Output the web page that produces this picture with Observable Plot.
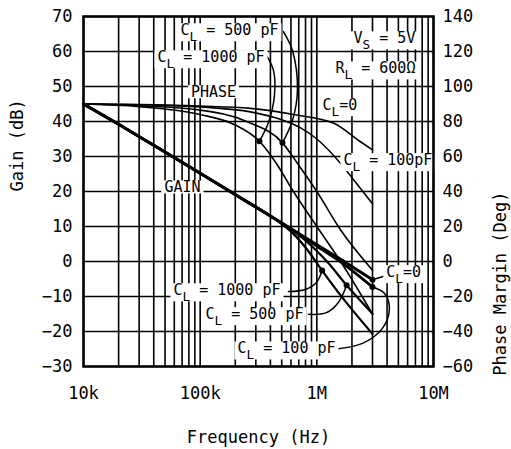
<!DOCTYPE html>
<html><head><meta charset="utf-8">
<script src="https://cdn.jsdelivr.net/npm/d3@7"></script>
<script src="https://cdn.jsdelivr.net/npm/@observablehq/plot@0.6"></script>
<style>body{margin:0;background:#fff}</style>
</head><body><div id="chart"></div>
<script>
// ---- Data ----
const xTicks = [1e4, 1e5, 1e6, 1e7];
const xTickLabels = ["10k", "100k", "1M", "10M"];
const gainTicks = [-30, -20, -10, 0, 10, 20, 30, 40, 50, 60, 70];
const phaseTicks = [-60, -40, -20, 0, 20, 40, 60, 80, 100, 120, 140];

// Open-loop gain (dB) vs frequency (Hz)
const gainFreqCL0 = [1e4, 2e4, 4e4, 1e5, 2e5, 4e5, 8e5, 1.6e6, 3e6];
const gainCL0 = [45, 39.2, 33.2, 25.2, 19.1, 13.0, 6.8, 0.6, -5.2];
const gainFreqCL100 = [1e4, 2e4, 4e4, 1e5, 2e5, 4e5, 6.3e5, 8e5, 1e6, 1.6e6, 3e6];
const gainCL100 = [45, 39.2, 33.2, 25.2, 19.1, 13.0, 8.9, 6.6, 4.4, -0.1, -7.3];
const gainFreqCL500 = [1e4, 2e4, 4e4, 1e5, 2e5, 4e5, 5e5, 6.3e5, 8e5, 1e6, 1.26e6, 1.8e6, 3e6];
const gainCL500 = [45, 39.2, 33.2, 25.2, 19.1, 13.0, 11.0, 8.7, 6.0, 3.0, -0.5, -6.8, -14.9];
const gainFreqCL1000 = [1e4, 2e4, 4e4, 1e5, 2e5, 4e5, 5e5, 6.3e5, 8e5, 1.11e6, 1.6e6, 3e6];
const gainCL1000 = [45, 39.2, 33.2, 25.2, 19.1, 13.0, 10.7, 7.9, 4.0, -2.6, -9.7, -20.7];

// Phase margin (deg) vs frequency (Hz)
const phaseFreqCL0 = [1e4, 3e4, 1e5, 2.7e5, 6.3e5, 1.4e6, 2.3e6, 3e6];
const phaseCL0 = [90, 89.7, 88.8, 87.5, 84, 79, 69, 63.8];
const phaseFreqCL100 = [1e4, 3e4, 1e5, 2.7e5, 5e5, 7.2e5, 1e6, 1.6e6, 2.2e6, 3e6];
const phaseCL100 = [90, 89.6, 88.3, 85.5, 81, 76.5, 70, 56, 44.4, 33];
const phaseFreqCL500 = [1e4, 3e4, 1e5, 2.5e5, 5.07e5, 7e5, 1e6, 1.6e6, 3e6];
const phaseCL500 = [90, 89, 86.5, 80, 67.8, 55, 40, 18, -5];
const phaseFreqCL1000 = [1e4, 3e4, 1e5, 2e5, 3.22e5, 4.5e5, 6.3e5, 1e6, 1.6e6, 3e6];
const phaseCL1000 = [90, 88.5, 84, 78, 68.7, 56, 40, 20, 0, -30];

// Marker dots (freq, value) : gain dots in dB, phase dots in degrees
const gainDotFreq = [3e6, 3e6, 1.8e6, 1.11e6];
const gainDotVal = [-5.2, -7.3, -6.8, -2.6];
const phaseDotFreq = [5.07e5, 3.22e5];
const phaseDotVal = [67.8, 68.7];

// Annotation labels (text, freq, gain-axis value, anchor)
const labelText = ["C_L = 500 pF", "C_L = 1000 pF", "PHASE", "GAIN", "V_S = 5V", "R_L = 600Ω",
  "C_L=0", "C_L = 100pF", "C_L=0", "C_L = 1000 pF", "C_L = 500 pF", "C_L = 100 pF"];
const labelFreq = [6.78e4, 4.31e4, 1.30e5, 7.05e4, 7.0e6, 7.0e6, 1.117e6, 1.69e6, 3.94e6, 5.9e4, 1.11e5, 2.09e5];
const labelVal = [66.0, 58.3, 48.3, 21.1, 63.7, 55.1, 44.6, 28.9, -3.1, -8.3, -15.1, -24.9];
const labelAnchor = ["start", "start", "middle", "middle", "end", "end", "start", "start", "start", "start", "start", "start"];

// Leader lines (freq, gain-axis value)
const leaderTop500F = [5.17e5, 6.18e5, 6.82e5, 6.18e5, 5.07e5];
const leaderTop500V = [65.7, 60.3, 48.9, 40.3, 33.9];
const leaderTop1000F = [3.70e5, 4.25e5, 4.33e5, 3.85e5, 3.22e5];
const leaderTop1000V = [58.9, 54.6, 47.4, 39.7, 34.35];
const leaderBot1000F = [5.71e5, 7.98e5, 9.93e5, 1.11e6];
const leaderBot1000V = [-8.6, -8.0, -6.0, -2.6];
const leaderBot500F = [8.47e5, 1.21e6, 1.53e6, 1.8e6];
const leaderBot500V = [-15.1, -14.6, -11.7, -6.8];
const leaderBot100F = [1.53e6, 2.46e6, 3.65e6, 4.19e6, 3.79e6, 3e6];
const leaderBot100V = [-24.9, -23.4, -19.1, -13.4, -9.1, -7.3];
const leaderGain0F = [3e6, 3.94e6];
const leaderGain0V = [-5.2, -4.0];

// ---- Build tables ----
const rows = (f, v, key) => f.map((x, i) => ({freq: x, val: v[i], key}));
const gainLines = [
  [rows(gainFreqCL1000, gainCL1000, "g1000"), 2.2],
  [rows(gainFreqCL500, gainCL500, "g500"), 2.2],
  [rows(gainFreqCL100, gainCL100, "g100"), 2.8],
  [rows(gainFreqCL0, gainCL0, "g0"), 3]
];
const phaseRows = [
  ...rows(phaseFreqCL0, phaseCL0, "p0"),
  ...rows(phaseFreqCL100, phaseCL100, "p100"),
  ...rows(phaseFreqCL500, phaseCL500, "p500"),
  ...rows(phaseFreqCL1000, phaseCL1000, "p1000")
];
const leaderRows = [
  ...rows(leaderTop500F, leaderTop500V, "a"),
  ...rows(leaderTop1000F, leaderTop1000V, "b"),
  ...rows(leaderBot1000F, leaderBot1000V, "c"),
  ...rows(leaderBot500F, leaderBot500V, "d"),
  ...rows(leaderBot100F, leaderBot100V, "e"),
  ...rows(leaderGain0F, leaderGain0V, "f")
];
const dots = [
  ...gainDotFreq.map((f, i) => ({freq: f, val: gainDotVal[i]})),
  ...phaseDotFreq.map((f, i) => ({freq: f, val: phaseDotVal[i] / 2}))
];
const labels = labelText.map((t, i) => ({text: t, freq: labelFreq[i], val: labelVal[i], anchor: labelAnchor[i]}));

const xGrid = [];
for (let e = 4; e < 7; e++) for (let m = 1; m <= 9; m++) xGrid.push(m * 10 ** e);
xGrid.push(1e7);

const fmt = d => d < 0 ? "\u2212" + Math.abs(d) : String(d);

const labelMark = anchor => Plot.text(labels.filter(d => d.anchor === anchor), {
  x: "freq", y: "val", text: "text", textAnchor: anchor, fontSize: 15, fill: "black"
});

const chart = Plot.plot({
  width: 511, height: 449,
  marginLeft: 83, marginRight: 78, marginTop: 16, marginBottom: 83,
  x: {type: "log", domain: [1e4, 1e7]},
  y: {domain: [-30, 70]},
  style: {fontFamily: "DejaVu Sans Mono", fontSize: "17px", background: "white", color: "black"},
  marks: [
    Plot.gridX(xGrid, {stroke: "black", strokeOpacity: 1, strokeWidth: 1.6}),
    Plot.gridY(gainTicks, {stroke: "black", strokeOpacity: 1, strokeWidth: 1.6}),
    Plot.line(phaseRows, {x: "freq", y: d => d.val / 2, z: "key", stroke: "black", strokeWidth: 1.6, curve: "monotone-x"}),
    ...gainLines.map(([r, w]) => Plot.line(r, {x: "freq", y: "val", stroke: "black", strokeWidth: w, curve: "monotone-x"})),
    Plot.line(leaderRows, {x: "freq", y: "val", z: "key", stroke: "black", strokeWidth: 1.5, curve: "catmull-rom"}),
    Plot.dot(dots, {x: "freq", y: "val", r: 3, fill: "black"}),
    labelMark("start"), labelMark("middle"), labelMark("end"),
    Plot.frame({stroke: "black", strokeWidth: 2.5}),
    Plot.axisX(xTicks, {tickFormat: d => xTickLabels[xTicks.indexOf(d)], tickSize: 0, tickPadding: 20, label: null}),
    Plot.axisY(gainTicks, {anchor: "left", tickFormat: fmt, tickSize: 0, tickPadding: 11, label: null}),
    Plot.axisY(gainTicks, {anchor: "right", tickFormat: d => fmt(phaseTicks[gainTicks.indexOf(d)]), tickSize: 0, tickPadding: 9, label: null}),
    Plot.text(["Frequency (Hz)"], {frameAnchor: "bottom", dy: 76, fontSize: 17}),
    Plot.text(["Gain (dB)"], {frameAnchor: "left", dx: -66, rotate: -90, fontSize: 17}),
    Plot.text(["Phase Margin (Deg)"], {frameAnchor: "right", dx: 67, rotate: -90, fontSize: 17})
  ]
});

const ns = "http://www.w3.org/2000/svg";
const annTexts = Array.from(chart.querySelectorAll("text")).filter(t => labelText.includes(t.textContent));

// subscripts: "X_Y" -> X with subscript Y
annTexts.forEach(t => {
  const s = t.textContent;
  if (!s.includes("_")) return;
  while (t.firstChild) t.removeChild(t.firstChild);
  let buf = "", shift = 0;
  const flush = () => { if (buf) { const ts = document.createElementNS(ns, "tspan"); ts.textContent = buf; if (shift) { ts.setAttribute("dy", -shift); shift = 0; } t.appendChild(ts); buf = ""; } };
  for (let i = 0; i < s.length; i++) {
    if (s[i] === "_" && i + 1 < s.length) {
      flush();
      const sub = document.createElementNS(ns, "tspan");
      sub.textContent = s[i + 1];
      sub.setAttribute("dy", 6);
      sub.setAttribute("font-size", "0.85em");
      t.appendChild(sub);
      shift = 6; i++;
    } else buf += s[i];
  }
  flush();
});

document.getElementById("chart").appendChild(chart);

// white boxes behind annotations (clear the grid like the original)
if (annTexts.length) {
  const svgBox = chart.getBoundingClientRect();
  const firstGroup = annTexts[0].parentNode;
  const boxG = document.createElementNS(ns, "g");
  annTexts.forEach(t => {
    const b = t.getBoundingClientRect();
    const r = document.createElementNS(ns, "rect");
    r.setAttribute("x", b.left - svgBox.left - 3);
    r.setAttribute("y", b.top - svgBox.top + 2);
    r.setAttribute("width", b.width + 6);
    r.setAttribute("height", Math.max(0, b.height - 5));
    r.setAttribute("fill", "white");
    boxG.appendChild(r);
  });
  firstGroup.parentNode.insertBefore(boxG, firstGroup);
}
</script>
</body></html>
